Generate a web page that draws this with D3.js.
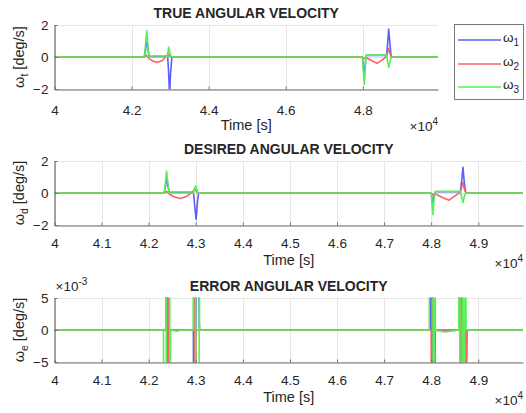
<!DOCTYPE html>
<html>
<head>
<meta charset="utf-8">
<script src="https://cdn.jsdelivr.net/npm/d3@7"></script>
<style>
  html, body { margin: 0; padding: 0; background: #fff; }
  svg { display: block; }
  text { font-family: "Liberation Sans", Arial, Helvetica, sans-serif; fill: #262626; }
</style>
</head>
<body>
<svg id="chart" width="526" height="413"></svg>
<script>
// ---------------- DATA ----------------
const seriesNames = ["1", "2", "3"];          // ω1, ω2, ω3
const seriesColors = ["#5c5cff", "#ff6060", "#55f055"];

const topXTicks = [40000, 42000, 44000, 46000, 48000];
const lowXTicks = [40000, 41000, 42000, 43000, 44000, 45000, 46000, 47000, 48000, 49000];
const velYTicks = [-2, 0, 2];
const errYTicks = [-0.005, 0, 0.005];

// TRUE angular velocity [t (s), deg/s]
const trueW1 = [[40000,0],[42330,0],[42360,0.4],[42392,1.25],[42420,0.6],[42450,0.05],[42700,0.05],[42935,0.05],[42960,-0.9],[42985,-2.4],[43012,-1.0],[43045,0],[47990,0],[48012,-0.6],[48040,-1.1],[48068,-0.3],[48090,0.1],[48615,0.1],[48645,0.9],[48670,1.75],[48700,0.9],[48735,0],[50000,0]];
const trueW2 = [[40000,0],[42330,0],[42390,0.1],[42450,-0.1],[42550,-0.25],[42660,-0.35],[42800,-0.22],[42950,0.2],[42990,0.05],[43030,0],[47990,0],[48020,-0.1],[48100,-0.05],[48250,-0.25],[48370,-0.4],[48500,-0.2],[48615,0.05],[48648,0.35],[48672,0.55],[48705,0.2],[48740,0],[50000,0]];
const trueW3 = [[40000,0],[42330,0],[42362,0.8],[42395,1.65],[42428,0.5],[42455,0],[42930,0],[42958,0.62],[42990,0.35],[43025,0],[47990,0],[48012,-0.9],[48040,-1.7],[48068,-0.5],[48090,0.12],[48615,0.12],[48645,-0.3],[48675,-0.65],[48710,-0.2],[48740,0],[50000,0]];

// DESIRED angular velocity [t (s), deg/s]
const desW1 = [[40000,0],[42330,0],[42355,0.4],[42382,1.0],[42410,0.4],[42435,0.05],[42700,0.05],[42950,0.05],[42978,-0.8],[43008,-1.65],[43038,-0.5],[43062,0],[48000,0],[48018,-0.4],[48035,-0.9],[48060,-0.2],[48090,0.08],[48620,0.08],[48650,0.8],[48675,1.6],[48705,0.6],[48735,0],[50000,0]];
const desW2 = [[40000,0],[42330,0],[42380,0.1],[42440,-0.08],[42550,-0.25],[42675,-0.35],[42820,-0.2],[42960,0.15],[43000,0.2],[43030,0],[48000,0],[48030,-0.1],[48100,-0.08],[48250,-0.3],[48380,-0.45],[48500,-0.2],[48620,0.05],[48650,0.4],[48675,0.65],[48705,0.25],[48735,0],[50000,0]];
const desW3 = [[40000,0],[42330,0],[42355,0.6],[42380,1.37],[42410,0.6],[42435,0],[42950,0],[42975,0.3],[43000,0.45],[43025,0.2],[43045,0],[48000,0],[48018,-0.6],[48035,-1.35],[48060,-0.4],[48090,0.1],[48620,0.1],[48650,-0.3],[48677,-0.6],[48705,-0.2],[48735,0],[50000,0]];

// ERROR angular velocity [t (s), deg/s]
const errW1 = [[40000,0],[42370,0],[42378,0.05],[42440,-0.05],[42460,0],[42950,0],[42960,-0.05],[43040,0.05],[43075,0.0005],[43085,0],[47980,0],[47990,0.05],[48070,-0.05],[48085,0],[48600,0],[48610,0.05],[48700,-0.05],[48760,0],[50000,0]];
const errW2 = [[40000,0],[42398,0],[42403,0.05],[42418,-0.05],[42428,0],[42960,0],[42968,0.05],[42990,-0.05],[43000,0],[48000,0],[48005,-0.05],[48020,0.05],[48030,0],[48290,-0.0002],[48590,0],[48600,0.05],[48628,-0.05],[48640,0],[48725,0],[48732,-0.05],[48745,0],[50000,0]];
const errW3 = [[40000,0],[42315,0],[42320,-0.05],[42370,-0.05],[42376,0.05],[42445,0.05],[42452,-0.05],[42462,0],[42600,-0.0002],[42700,0],[42945,0],[42950,0.05],[42990,0.05],[43000,-0.05],[43070,-0.05],[43078,0.05],[43080,0.001],[43090,0],[47960,0],[47966,0.05],[48035,0.05],[48045,-0.05],[48070,-0.05],[48078,0.05],[48088,0],[48290,-0.0003],[48585,0],[48590,0.05],[48628,-0.05],[48655,-0.05],[48660,0.05],[48700,-0.05],[48730,0.05],[48740,0],[50000,0]];

// ---------------- DRAW ----------------
const svg = d3.select("#chart");

const panels = [
  { title: "TRUE ANGULAR VELOCITY", sub: "t", left: 54.5, right: 438, top: 25, bottom: 89,
    xdom: [40000, 49950], xticks: topXTicks, ydom: [-2, 2], yticks: velYTicks, yfmt: d => d3.format("d")(d),
    data: [trueW1, trueW2, trueW3], tickLabelY: 111, xlabY: 130, expY: 131, yexp: null },
  { title: "DESIRED ANGULAR VELOCITY", sub: "d", left: 54.5, right: 523, top: 161, bottom: 225,
    xdom: [40000, 49950], xticks: lowXTicks, ydom: [-2, 2], yticks: velYTicks, yfmt: d => d3.format("d")(d),
    data: [desW1, desW2, desW3], tickLabelY: 244, xlabY: 265, expY: 268, yexp: null },
  { title: "ERROR ANGULAR VELOCITY", sub: "e", left: 54.5, right: 523, top: 298, bottom: 362,
    xdom: [40000, 49950], xticks: lowXTicks, ydom: [-0.005, 0.005], yticks: errYTicks, yfmt: d => d3.format("d")(Math.round(d * 1000)),
    data: [errW1, errW2, errW3], tickLabelY: 381, xlabY: 402, expY: 405, yexp: "-3" }
];

panels.forEach((p, pi) => {
  const x = d3.scaleLinear().domain(p.xdom).range([p.left, p.right]);
  const y = d3.scaleLinear().domain(p.ydom).range([p.bottom, p.top]);
  const g = svg.append("g");
  const clipId = "clip" + pi;
  svg.append("defs").append("clipPath").attr("id", clipId)
    .append("rect").attr("x", p.left).attr("y", p.top - 0.5).attr("width", p.right - p.left).attr("height", p.bottom - p.top + 1);

  // grid
  g.append("g").selectAll("line").data(p.xticks).join("line")
    .attr("x1", d => Math.round(x(d)) + 0.5).attr("x2", d => Math.round(x(d)) + 0.5).attr("y1", p.top).attr("y2", p.bottom)
    .attr("stroke", "#e6e6e6").attr("stroke-width", 1);
  g.append("g").selectAll("line").data(p.yticks).join("line")
    .attr("x1", p.left).attr("x2", p.right).attr("y1", d => y(d) + 0.5).attr("y2", d => y(d) + 0.5)
    .attr("stroke", "#e6e6e6").attr("stroke-width", 1);

  // lines
  const line = d3.line().x(d => x(d[0])).y(d => y(d[1]));
  const lg = g.append("g").attr("clip-path", `url(#${clipId})`);
  p.data.forEach((s, i) => {
    lg.append("path").datum(s).attr("d", line).attr("fill", "none")
      .attr("stroke", seriesColors[i]).attr("stroke-width", 1.6).attr("stroke-linejoin", "round");
  });

  // axes
  const xAxis = d3.axisBottom(x).tickValues(p.xticks).tickSizeInner(-3).tickSizeOuter(0)
    .tickFormat(d => d3.format("")(+(d / 10000).toFixed(1)));
  const xg = g.append("g").attr("transform", `translate(0,${p.bottom + 0.5})`).call(xAxis);
  xg.select(".domain").attr("stroke", "#6e6e6e").attr("stroke-width", 1.2);
  xg.selectAll(".tick line").attr("stroke", "#6e6e6e");
  xg.selectAll(".tick text").attr("fill", "#262626").attr("font-size", 13.5)
    .attr("font-family", '"Liberation Sans", Arial, sans-serif').attr("y", 0).attr("dy", null)
    .attr("transform", `translate(0,${p.tickLabelY - p.bottom})`).attr("dominant-baseline", "middle");

  const yAxis = d3.axisLeft(y).tickValues(p.yticks).tickSizeInner(-3).tickSizeOuter(0).tickFormat(p.yfmt);
  const yg = g.append("g").attr("transform", `translate(${p.left},0)`).call(yAxis);
  yg.select(".domain").attr("stroke", "#6e6e6e").attr("stroke-width", 1.2);
  yg.selectAll(".tick line").attr("stroke", "#6e6e6e");
  yg.selectAll(".tick text").attr("fill", "#262626").attr("font-size", 13.5)
    .attr("font-family", '"Liberation Sans", Arial, sans-serif').attr("x", -6).attr("dy", "0.35em");

  const cx = (p.left + p.right) / 2;
  // title
  g.append("text").attr("x", cx).attr("y", p.top - 7).attr("text-anchor", "middle")
    .attr("font-size", 14).attr("font-weight", "bold").attr("fill", "#000").text(p.title);
  // x label
  g.append("text").attr("x", cx).attr("y", p.xlabY).attr("text-anchor", "middle")
    .attr("font-size", 14.5).text("Time [s]");
  // x exponent
  const ex = g.append("text").attr("x", p.right).attr("y", p.expY).attr("text-anchor", "end")
    .attr("font-size", 13.5);
  ex.append("tspan").text("×10");
  ex.append("tspan").attr("font-size", 10).attr("dy", -6).text("4");
  // y exponent
  if (p.yexp) {
    const ey = g.append("text").attr("x", p.left + 1).attr("y", p.top - 7).attr("font-size", 13.5);
    ey.append("tspan").text("×10");
    ey.append("tspan").attr("font-size", 10).attr("dy", -6).text(p.yexp);
  }
  // y label
  const ylab = g.append("text").attr("transform", `translate(24,${(p.top + p.bottom) / 2}) rotate(-90)`)
    .attr("text-anchor", "middle").attr("font-size", 14.5);
  ylab.append("tspan").text("ω");
  ylab.append("tspan").attr("font-size", 10.5).attr("dy", 4).text(p.sub);
  ylab.append("tspan").attr("dy", -4).text(" [deg/s]");
});

// legend
const leg = svg.append("g");
leg.append("rect").attr("x", 454.5).attr("y", 24.5).attr("width", 69).attr("height", 75)
  .attr("fill", "#fff").attr("stroke", "#777").attr("stroke-width", 1);
const legY = [40, 64, 87];
seriesNames.forEach((n, i) => {
  leg.append("line").attr("x1", 458).attr("x2", 501).attr("y1", legY[i]).attr("y2", legY[i])
    .attr("stroke", seriesColors[i]).attr("stroke-width", 1.6);
  const t = leg.append("text").attr("x", 503).attr("y", legY[i] + 2).attr("font-size", 13.5);
  t.append("tspan").text("ω");
  t.append("tspan").attr("font-size", 10).attr("dy", 4).text(n);
});
</script>
</body>
</html>
